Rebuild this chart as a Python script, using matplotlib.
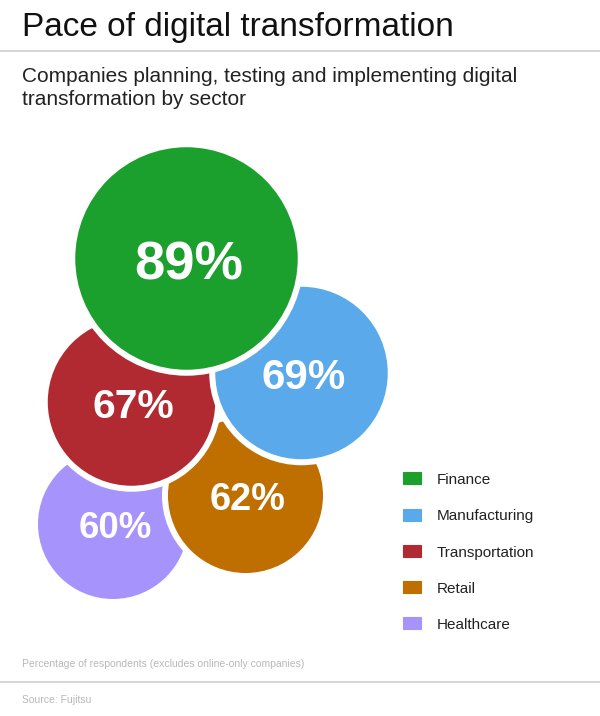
"""Packed bubble chart: pace of digital transformation by sector."""

import matplotlib

matplotlib.use("Agg")
import matplotlib.pyplot as plt
from matplotlib.patches import Circle, Rectangle

# data
sectors = ["Finance", "Manufacturing", "Transportation", "Retail", "Healthcare"]
shares = [89, 69, 67, 62, 60]
colors = ["#1ba02e", "#5aaaeb", "#b12a32", "#bf6e00", "#a793fc"]

# layout of the packed bubbles (pixel space, y down)
centers = [(186.5, 258.5), (301.5, 373.0), (131.5, 402.0), (245.5, 495.5), (113.0, 524.0)]
PX_PER_PCT = 1.25
GAP_PX = 6.0
PT = 72 / 100  # points per pixel at dpi 100

plt.rcParams["font.family"] = ["Liberation Sans", "DejaVu Sans"]

fig = plt.figure(figsize=(6, 7.16), dpi=100)
ax = fig.add_axes([0, 0, 1, 1])
ax.set_xlim(0, 600)
ax.set_ylim(716, 0)
ax.axis("off")

# headings
ax.text(22, 36, "Pace of digital transformation", fontsize=24, color="#111111", va="baseline")
ax.plot([0, 600], [50.7, 50.7], color="#cccccc", lw=1.6 * PT)
ax.text(22, 82, "Companies planning, testing and implementing digital", fontsize=15,
        color="#222222", va="baseline")
ax.text(22, 105, "transformation by sector", fontsize=15, color="#222222", va="baseline")

# bubbles, smallest first so larger ones sit on top
order = sorted(range(len(shares)), key=lambda i: shares[i])
for z, i in enumerate(order):
    cx, cy = centers[i]
    r = shares[i] * PX_PER_PCT + GAP_PX / 2
    ax.add_patch(Circle((cx, cy), r, facecolor=colors[i], edgecolor="white",
                        lw=GAP_PX * PT, zorder=2 + z))
    size_pt = shares[i] * 0.44
    ax.text(cx + 2, cy + 0.38 * size_pt / PT, f"{shares[i]}%", fontsize=size_pt,
            fontweight="bold", color="white", ha="center", va="baseline", zorder=2 + z)

# legend
for k, (name, col) in enumerate(zip(sectors, colors)):
    y = 478.3 + k * 36.25
    ax.add_patch(Rectangle((403, y - 6), 18, 12, facecolor=col, edgecolor=col, lw=0.8))
    ax.text(437, y + 5.8, name, fontsize=11, color="#222222", va="baseline")

# footer
ax.text(22, 667, "Percentage of respondents (excludes online-only companies)", fontsize=7.5,
        color="#b8b8b8", va="baseline")
ax.plot([0, 600], [681.7, 681.7], color="#cccccc", lw=1.6 * PT)
ax.text(22, 703, "Source: Fujitsu", fontsize=7.5, color="#b8b8b8", va="baseline")

fig.savefig("out.png", dpi=100)
